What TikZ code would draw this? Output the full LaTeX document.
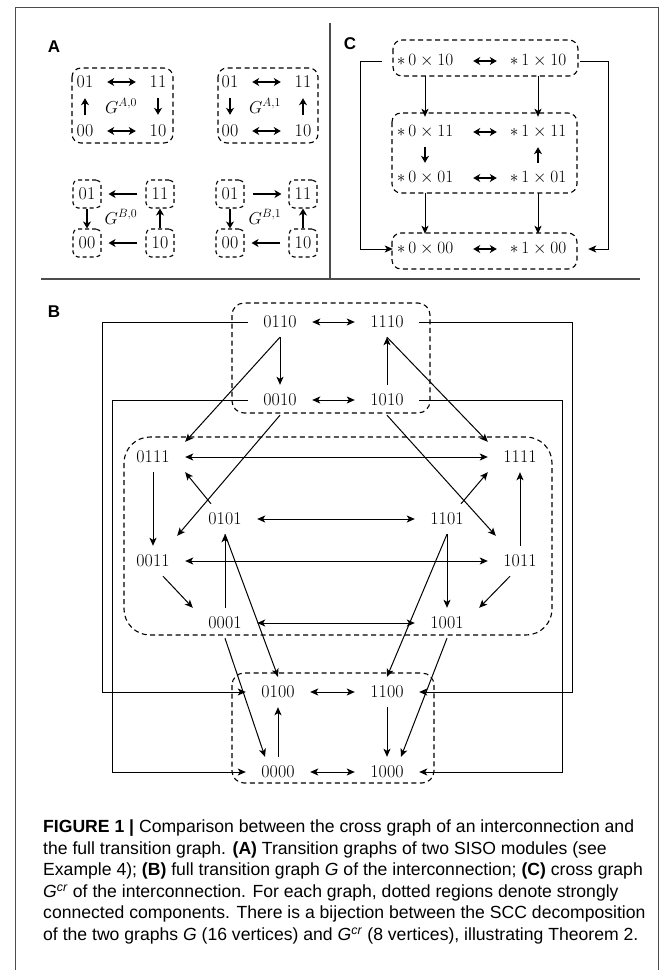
\documentclass[tikz,border=0pt]{standalone}
\usepackage{amsmath,amssymb}
\usepackage{fontspec}
\newfontfamily\capfont{Liberation Sans}
\usetikzlibrary{arrows.meta,positioning,calc}

\begin{document}
\begin{tikzpicture}[x=1pt, y=-1pt,
    st/.style={font=\fontsize{18}{20}\selectfont, minimum width=64pt, minimum height=30pt, inner sep=0pt},
    ast/.style={font=\fontsize{18}{20}\selectfont, minimum width=44pt, minimum height=32pt, inner sep=0pt},
    bst/.style={draw, dash pattern=on 4pt off 3pt, rounded corners=5pt, font=\fontsize{18}{20}\selectfont, minimum size=28pt, inner sep=0pt, line width=1.1pt},
    gst/.style={font=\fontsize{18}{20}\selectfont, inner sep=0pt},
    scc/.style={draw, dash pattern=on 5pt off 3.5pt, rounded corners=12pt, line width=1.1pt},
    arr/.style={-{Stealth[length=8pt,width=7pt,inset=2pt]}, line width=1pt},
    biarr/.style={{Stealth[length=8pt,width=7pt,inset=2pt]}-{Stealth[length=8pt,width=7pt,inset=2pt]}, line width=1pt},
    thk/.style={-{Stealth[length=7pt,width=8pt,inset=2pt]}, line width=1.8pt},
    bithk/.style={{Stealth[length=7pt,width=8pt,inset=2pt]}-{Stealth[length=7pt,width=8pt,inset=2pt]}, line width=1.8pt},
    lbl/.style={font=\capfont\bfseries\fontsize{17}{17}\selectfont, inner sep=0pt},
    frm/.style={draw=black!70, line width=1pt}
]
\useasboundingbox (0,0) rectangle (672,970);

% frame and separators
\draw[frm] (15,970) -- (15,7) -- (658,7) -- (658,970);
\draw[frm, line width=1.3pt] (41,279) -- (640,279);
\draw[frm, line width=1.3pt] (330,23) -- (330,279);

% ---------- A ----------
\node[lbl] (la) at (54,47) {A};
\node[ast] (a0-01) at (85,82) {01};
\node[ast] (a0-11) at (158,82) {11};
\node[ast] (a0-00) at (85,131) {00};
\node[ast] (a0-10) at (158,131) {10};
\node[gst] (ga0) at (121,106) {$G^{A,0}$};
\draw[scc, rounded corners=9pt] (72,68) rectangle (173,143);
\draw[bithk] (a0-01) -- (a0-11);
\draw[bithk] (a0-00) -- (a0-10);
\draw[thk] (a0-00) -- (a0-01);
\draw[thk] (a0-11) -- (a0-10);

\node[ast] (a1-01) at (230,82) {01};
\node[ast] (a1-11) at (303,82) {11};
\node[ast] (a1-00) at (230,131) {00};
\node[ast] (a1-10) at (303,131) {10};
\node[gst] (ga1) at (265,106) {$G^{A,1}$};
\draw[scc, rounded corners=9pt] (218,68) rectangle (318,143);
\draw[bithk] (a1-01) -- (a1-11);
\draw[bithk] (a1-00) -- (a1-10);
\draw[thk] (a1-01) -- (a1-00);
\draw[thk] (a1-10) -- (a1-11);

\node[bst] (b0-01) at (87,194) {01};
\node[bst] (b0-11) at (160,194) {11};
\node[bst] (b0-00) at (87,243) {00};
\node[bst] (b0-10) at (160,243) {10};
\node[gst] (gb0) at (121,217) {$G^{B,0}$};
\draw[thk, shorten <=8pt, shorten >=7pt] (b0-11) -- (b0-01);
\draw[thk, shorten <=8pt, shorten >=7pt] (b0-10) -- (b0-00);
\draw[thk] (b0-01) -- (b0-00);
\draw[thk] (b0-10) -- (b0-11);

\node[bst] (b1-01) at (230,194) {01};
\node[bst] (b1-11) at (303,194) {11};
\node[bst] (b1-00) at (230,243) {00};
\node[bst] (b1-10) at (303,243) {10};
\node[gst] (gb1) at (265,217) {$G^{B,1}$};
\draw[thk, shorten <=8pt, shorten >=7pt] (b1-01) -- (b1-11);
\draw[thk, shorten <=8pt, shorten >=7pt] (b1-10) -- (b1-00);
\draw[thk] (b1-01) -- (b1-00);
\draw[thk] (b1-10) -- (b1-11);

% ---------- C ----------
\node[lbl] (lc) at (350,44) {C};
\node[st] (c010) at (425,61) {$\ast\,0\times10$};
\node[st] (c110) at (538,61) {$\ast\,1\times10$};
\node[st] (c011) at (425,132) {$\ast\,0\times11$};
\node[st] (c111) at (538,132) {$\ast\,1\times11$};
\node[st] (c001) at (425,178) {$\ast\,0\times01$};
\node[st] (c101) at (538,178) {$\ast\,1\times01$};
\node[st] (c000) at (425,249) {$\ast\,0\times00$};
\node[st] (c100) at (538,249) {$\ast\,1\times00$};
\draw[scc, rounded corners=9pt] (393,40) rectangle (578,76);
\draw[scc, rounded corners=9pt] (392,113) rectangle (577,193);
\draw[scc, rounded corners=9pt] (392,233) rectangle (577,269);
\draw[bithk, shorten <=16pt, shorten >=9pt] (c010) -- (c110);
\draw[bithk, shorten <=16pt, shorten >=9pt] (c011) -- (c111);
\draw[bithk, shorten <=16pt, shorten >=9pt] (c001) -- (c101);
\draw[bithk, shorten <=16pt, shorten >=9pt] (c000) -- (c100);
\draw[thk] (c011) -- (c001);
\draw[thk] (c101) -- (c111);
\draw[arr] (c010) -- (c011);
\draw[arr] (c110) -- (c111);
\draw[arr] (c001) -- (c000);
\draw[arr] (c101) -- (c100);
\draw[arr] ([xshift=-11pt]c010.west) -- ++(-21,0) |- (c000.west);
\draw[arr] ([xshift=10pt]c110.east) -- ++(28,0) |- ([xshift=18pt]c100.east);

% ---------- B ----------
\node[lbl] (lb) at (54,312) {B};
\node[st] (n0110) at (280,322) {0110};
\node[st] (n1110) at (387,322) {1110};
\node[st] (n0010) at (280,400) {0010};
\node[st] (n1010) at (387,400) {1010};
\node[st] (n0111) at (153,457) {0111};
\node[st] (n1111) at (520,457) {1111};
\node[st] (n0101) at (225,519) {0101};
\node[st] (n1101) at (447,519) {1101};
\node[st] (n0011) at (153,561) {0011};
\node[st] (n1011) at (520,561) {1011};
\node[st] (n0001) at (225,623) {0001};
\node[st] (n1001) at (447,623) {1001};
\node[st] (n0100) at (278,692) {0100};
\node[st] (n1100) at (387,692) {1100};
\node[st] (n0000) at (278,772) {0000};
\node[st] (n1000) at (387,772) {1000};

\draw[scc] (232,303) rectangle (430,413);
\draw[scc, rounded corners=26pt] (124,437) rectangle (552,635);
\draw[scc] (232,673) rectangle (434,783);

\draw[biarr] (n0110) -- (n1110);
\draw[biarr] (n0010) -- (n1010);
\draw[arr] (n0110) -- (n0010);
\draw[arr] (n1010) -- (n1110);
\draw[arr] (n0110.south) -- (n0111.north east);
\draw[arr] (n1110.south) -- (n1111.north west);
\draw[arr] (n0010.south) -- ([shift={(-8,-10)}]n0011.north east);
\draw[arr] (n1010.south) -- ([shift={(8,-10)}]n1011.north west);

\draw[biarr] (n0111) -- (n1111);
\draw[biarr] (n0101) -- (n1101);
\draw[biarr] (n0011) -- (n1011);
\draw[biarr] (n0001) -- (n1001);
\draw[arr] (n0111) -- (n0011);
\draw[arr] (n1011) -- (n1111);
\draw[arr] ([xshift=-14pt]n0101.north) -- (n0111.south east);
\draw[arr] ([xshift=14pt]n1101.north) -- (n1111.south west);
\draw[arr] ([xshift=10pt]n0011.south) -- (n0001.north west);
\draw[arr] ([xshift=-10pt]n1011.south) -- (n1001.north east);
\draw[arr] (n0001) -- (n0101);
\draw[arr] (n1101) -- (n1001);

\draw[arr] (n0101.south) -- (n0100.north);
\draw[arr] (n1101.south) -- (n1100.north);
\draw[arr] (n0001.south) -- ([xshift=-13pt]n0000.north);
\draw[arr] (n1001.south) -- ([xshift=14pt]n1000.north);
\draw[biarr] (n0100) -- (n1100);
\draw[biarr] (n0000) -- (n1000);
\draw[arr] (n0000) -- (n0100);
\draw[arr] (n1100) -- (n1000);

\draw[arr] (n0110.west) -- ++(-145,0) |- (n0100.west);
\draw[arr] (n0010.west) -- ++(-135,0) |- (n0000.west);
\draw[arr] (n1110.east) -- ++(153,0) |- (n1100.east);
\draw[arr] (n1010.east) -- ++(143,0) |- (n1000.east);

% caption
\node[anchor=north west, align=left, inner sep=0pt, font=\capfont\fontsize{17.6}{21.5}\selectfont] (cap) at (43,820)
  {\textbf{FIGURE 1 |} Comparison between the cross graph of an interconnection and\\
   the full transition graph. \textbf{(A)} Transition graphs of two SISO modules (see\\
   Example 4); \textbf{(B)} full transition graph \textit{G} of the interconnection; \textbf{(C)} cross graph\\
   \textit{G}\textsuperscript{\textit{cr}} of the interconnection. For each graph, dotted regions denote strongly\\
   connected components. There is a bijection between the SCC decomposition\\
   of the two graphs \textit{G} (16 vertices) and \textit{G}\textsuperscript{\textit{cr}} (8 vertices), illustrating Theorem 2.};
\end{tikzpicture}
\end{document}
